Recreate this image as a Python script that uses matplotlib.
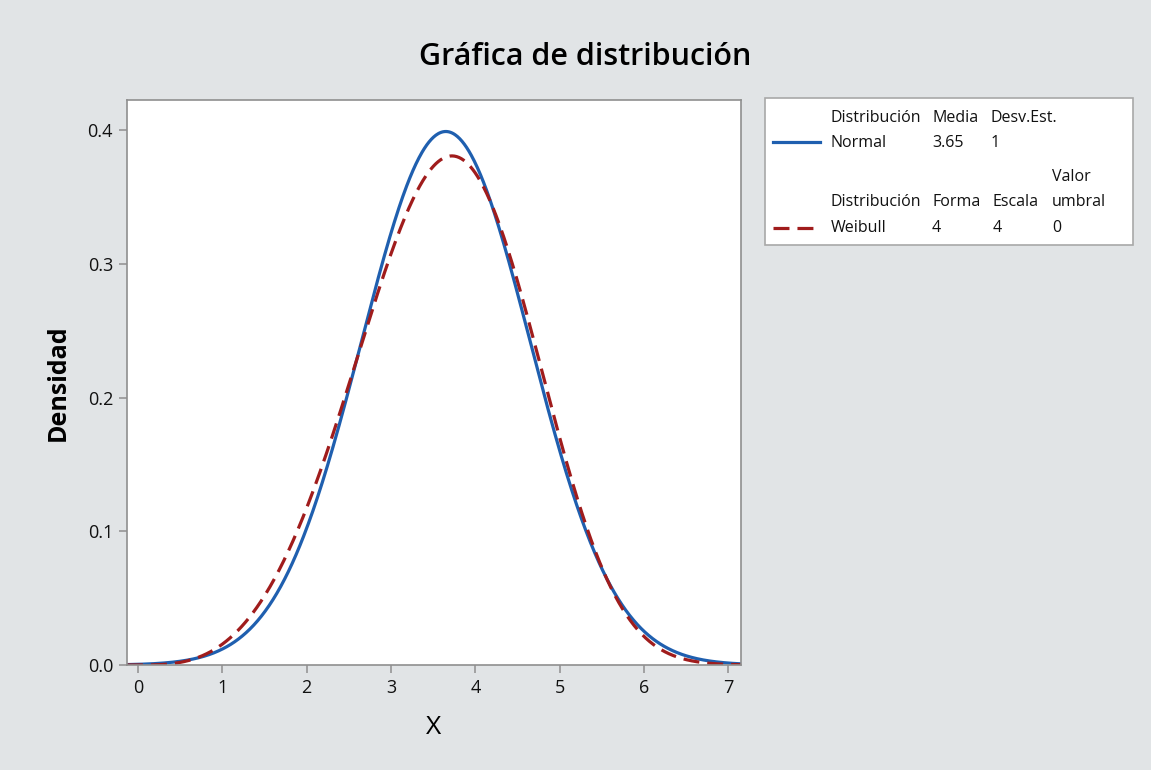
import numpy as np
import matplotlib.pyplot as plt
from matplotlib.patches import Rectangle
from matplotlib.lines import Line2D

plt.rcParams["font.family"] = ["Open Sans", "DejaVu Sans"]

# distribution parameters, as listed in the legend
normal_params = {"Media": 3.65, "Desv.Est.": 1}
weibull_params = {"Forma": 4, "Escala": 4, "Valor umbral": 0}
x_ticks = [0, 1, 2, 3, 4, 5, 6, 7]
y_ticks = [0.0, 0.1, 0.2, 0.3, 0.4]

bg = "#E1E4E6"
blue = "#1F5FAF"
red = "#A01C1C"
gray = "#8F8F8F"

x = np.linspace(-0.13, 7.15, 800)
mu, sd = normal_params["Media"], normal_params["Desv.Est."]
pdf_norm = np.exp(-0.5 * ((x - mu) / sd) ** 2) / (sd * np.sqrt(2 * np.pi))
k, lam, th = weibull_params["Forma"], weibull_params["Escala"], weibull_params["Valor umbral"]
z = np.clip((x - th) / lam, 0, None)
pdf_weib = np.where(x >= th, (k / lam) * z ** (k - 1) * np.exp(-z ** k), 0.0)

fig = plt.figure(figsize=(11.51, 7.70), dpi=100, facecolor=bg)
ax = fig.add_axes([127 / 1151, 1 - 665 / 770, 614 / 1151, 565 / 770])
ax.plot(x, pdf_norm, color=blue, lw=2.3, solid_capstyle="butt")
ax.plot(x, pdf_weib, color=red, lw=2.3, dashes=(5, 2.5))

ax.set_xlim(-0.13, 7.15)
ax.set_ylim(0, 0.4225)
ax.set_xticks(x_ticks)
ax.set_yticks(y_ticks)
ax.set_yticklabels([f"{v:.1f}" for v in y_ticks])
for s in ax.spines.values():
    s.set_color(gray)
    s.set_linewidth(1.2)
ax.tick_params(direction="out", length=6, width=1.1, color=gray,
               labelsize=13, labelcolor="#111111", pad=4)
ax.set_xlabel("X", fontsize=19, labelpad=13)
ax.set_ylabel("Densidad", fontsize=18, fontweight="bold", labelpad=12)
fig.text(585 / 1151, 1 - 57 / 770, "Gráfica de distribución", fontsize=22,
         fontweight="semibold", ha="center", va="center")

# legend table
def fx(px):
    return px / 1151

def fy(py):
    return 1 - py / 770

fig.patches.append(Rectangle((fx(765), fy(245)), fx(1133) - fx(765), fy(98) - fy(245),
                             transform=fig.transFigure, facecolor="white",
                             edgecolor="#A8A8A8", lw=1.2))
fig.lines.append(Line2D([fx(773), fx(820)], [fy(142), fy(142)], transform=fig.transFigure,
                        color=blue, lw=2.3))
fig.lines.append(Line2D([fx(773), fx(820)], [fy(228), fy(228)], transform=fig.transFigure,
                        color=red, lw=2.3, dashes=(5, 2.5)))

fs = 11.5
rows = [
    (118, [(831, "Distribución"), (932, "Media"), (991, "Desv.Est.")]),
    (143, [(831, "Normal"), (932, f"{normal_params['Media']}"), (991, f"{normal_params['Desv.Est.']}")]),
    (177, [(1052, "Valor")]),
    (202, [(831, "Distribución"), (932, "Forma"), (993, "Escala"), (1052, "umbral")]),
    (228, [(831, "Weibull"), (932, f"{weibull_params['Forma']}"), (993, f"{weibull_params['Escala']}"),
           (1052, f"{weibull_params['Valor umbral']}")]),
]
for py, cells in rows:
    for px, txt in cells:
        fig.text(fx(px), fy(py), txt, fontsize=fs, ha="left", va="center", color="#111111")

fig.savefig("out.png", dpi=100, facecolor=bg)
